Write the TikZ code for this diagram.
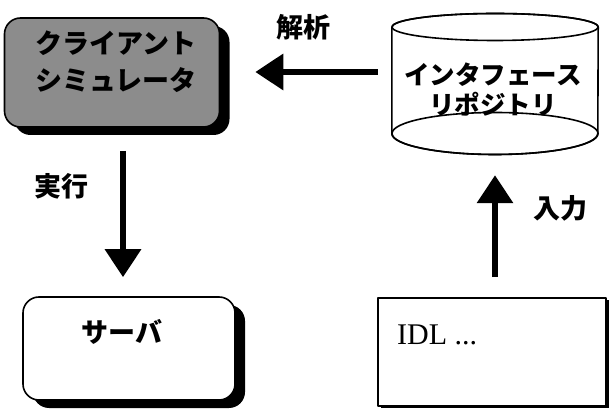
\documentclass[tikz,border=0pt]{standalone}
\usepackage{fontspec}
\setmainfont{Liberation Serif}
\newfontfamily\jp{Noto Sans CJK JP}
\usetikzlibrary{arrows.meta,shadows}
\begin{document}
\begin{tikzpicture}[x=1pt, y=1pt, line join=round,
    flow/.style={-{Triangle[length=28pt,width=35pt]}, line width=6.5pt},
    shade box/.style={draw, line width=1.6pt, rounded corners=16pt,
      drop shadow={shadow xshift=10pt, shadow yshift=-8pt, fill=black, opacity=1}},
    lbl/.style={font=\jp\bfseries\fontsize{27}{30}\selectfont, inner sep=0pt},
    jtext/.style={font=\jp\bfseries\fontsize{27}{37}\selectfont, align=center, inner sep=0pt}]
    \useasboundingbox (0,0) rectangle (615,412);
    \node [shade box, fill=black!45, minimum width=215pt, minimum height=109pt] (client) at (112,339.5) {};
    \node [jtext] (clienttext) at (116,350) {クライアント\\シミュレータ};
    \node [shade box, fill=white, minimum width=212pt, minimum height=103pt] (server) at (129,63.5) {};
    \node [jtext] (servertext) at (122,80) {サーバ};
    \node [draw, line width=1.6pt, fill=white, minimum width=228pt, minimum height=108pt,
      drop shadow={shadow xshift=3pt, shadow yshift=-2pt, fill=black, opacity=1}] (idl) at (492,60) {};
    \node [anchor=base west, inner sep=0pt, font=\fontsize{30}{30}\selectfont] (idltext) at (397,67) {IDL ...};
    \node [minimum width=206pt, minimum height=106pt, inner sep=0pt] (repo) at (495,332) {};
    \draw [line width=1.6pt, fill=white] (repo.west |- 0,385) -- (repo.west |- 0,278.5)
      arc[start angle=180, end angle=360, x radius=103pt, y radius=21pt] -- (repo.east |- 0,385)
      arc[start angle=0, end angle=180, x radius=103pt, y radius=13.5pt];
    \draw [line width=1.6pt] (495,385) ellipse[x radius=103pt, y radius=13.5pt];
    \draw [line width=1.6pt] (495,278.5) ellipse[x radius=103pt, y radius=21pt];
    \node [jtext, font=\jp\bfseries\fontsize{25.5}{30}\selectfont] (repotext) at (493,322) {インタフェース\\リポジトリ};
    \draw [flow, shorten <=14pt, shorten >=35pt] (repo.west |- 0,340) -- (client.east |- 0,340);
    \node [lbl] (parse) at (303,385) {解析};
    \draw [flow, shorten <=23pt, shorten >=19pt] (client.south -| 123,0) -- (server.north -| 123,0);
    \node [lbl] (exec) at (61,226) {実行};
    \draw [flow, shorten <=20pt, shorten >=42pt] (idl.north -| 495,0) -- (repo.south -| 495,0);
    \node [lbl] (input) at (560,204) {入力};
\end{tikzpicture}
\end{document}
